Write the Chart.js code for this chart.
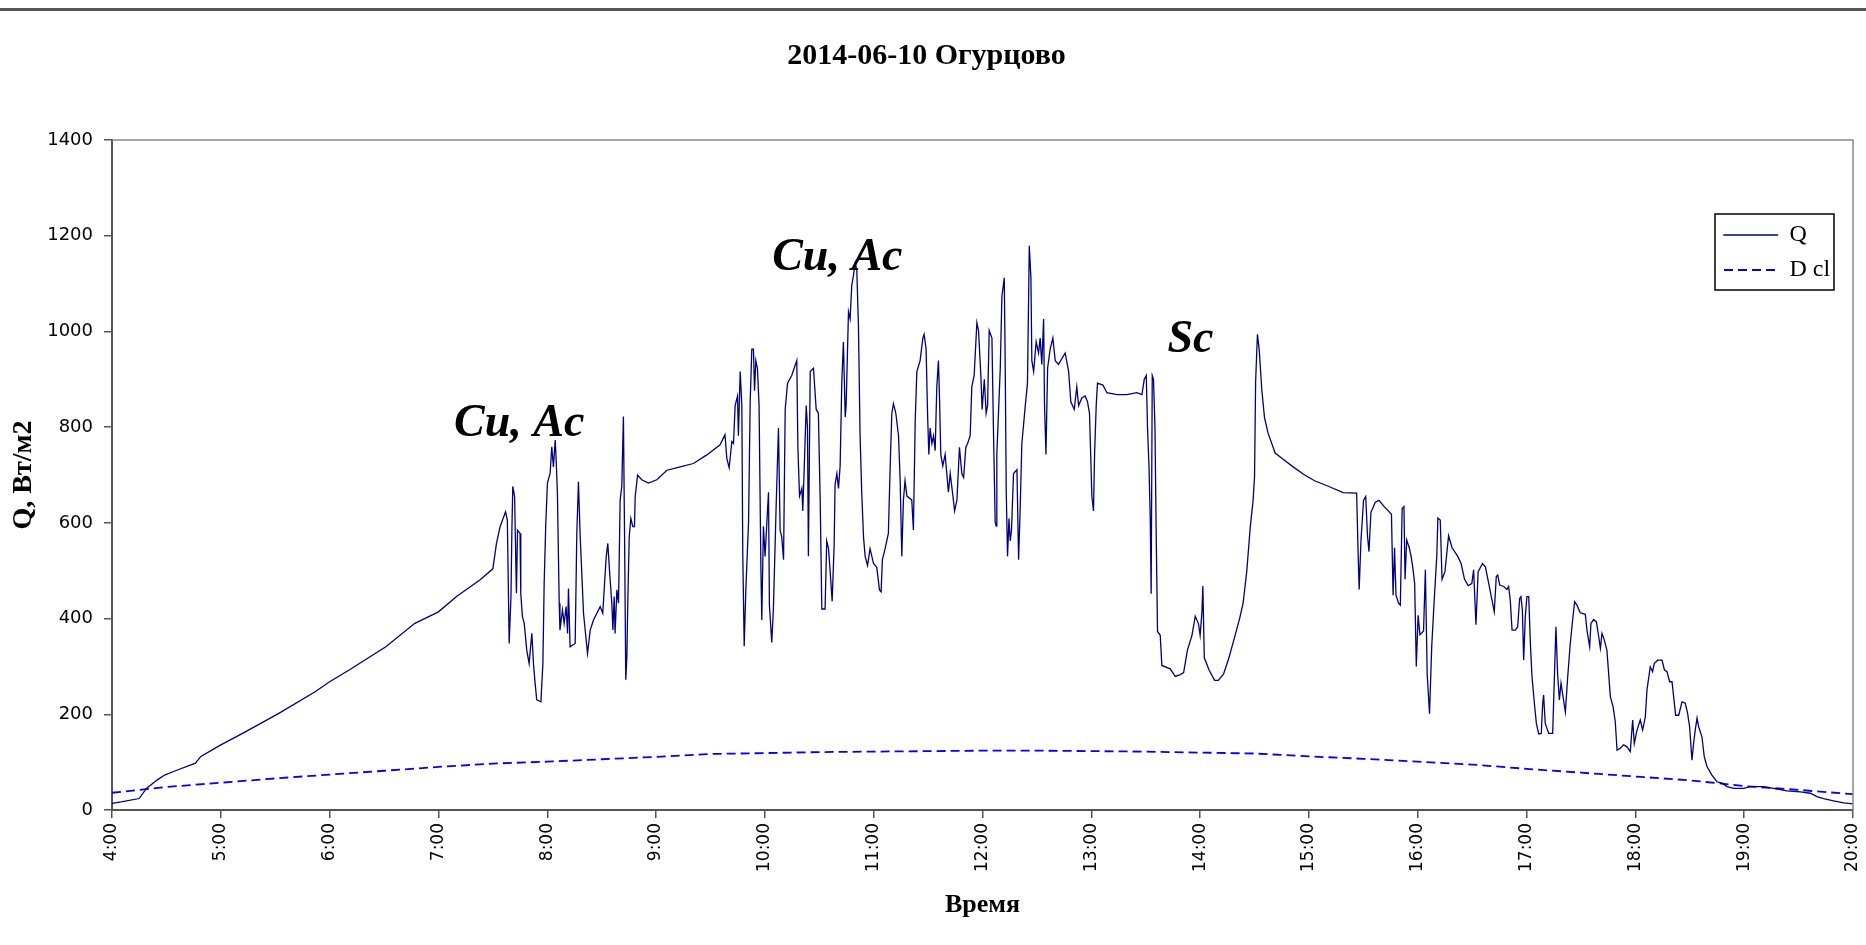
<!DOCTYPE html>
<html>
<head>
<meta charset="utf-8">
<script src="https://cdn.jsdelivr.net/npm/chart.js@4.4.1/dist/chart.umd.min.js"></script>
<style>
  body { margin: 0; background: #fff; }
  #topline { position: absolute; left: 0; top: 8px; width: 1866px; height: 3px; background: #555; }
  #myChart { position: absolute; left: 0; top: 0; }
</style>
</head>
<body>
<canvas id="myChart" width="1866" height="945"></canvas>
<div id="topline"></div>
<script>
// time is in minutes after midnight
let xTickLabels = ["4:00", "5:00", "6:00", "7:00", "8:00", "9:00", "10:00", "11:00", "12:00",
    "13:00", "14:00", "15:00", "16:00", "17:00", "18:00", "19:00", "20:00"];
let yTickLabels = ["0", "200", "400", "600", "800", "1000", "1200", "1400"];

let qTime = [
    240, 245, 255, 259, 265, 269, 275, 286, 289, 300, 312, 332, 352, 360, 371, 391, 407, 420, 430, 443, 450,
    452, 454, 457, 458, 459, 460, 460.5, 461, 462, 463, 463.6, 465, 465.4, 466.3, 467.3, 468.7, 470, 471.5, 472.4,
    473.3, 474.2, 476.5, 477.6, 478.3, 479.2, 480.1, 481.6, 482.5, 483.4, 484.4, 485, 485.6, 486.6, 487, 488.4,
    489.3, 490.4, 491.2, 491.7, 492.6, 495.4, 496.3, 497.2, 498.1, 500, 502.2, 503.7, 505.5, 509.2, 510.6, 512.5,
    513.4, 514.3, 515.6, 516.2, 516.9, 517.4, 518.4, 519.3, 520.2, 521.1, 522, 522.6, 523.3, 523.9, 524.4, 525.2,
    526.1, 527.2, 528.1, 528.5, 529.8, 532.1, 535.8, 540.4, 546, 553.3, 560.6, 568, 575.3, 578,
    579, 580.3, 581.8, 582.7, 583.6, 584.9, 585.4, 586.4, 587.3, 587.8, 588.6, 589.5, 591, 591.9, 592.8, 593.7,
    594.3, 595, 595.9, 596.8, 597.8, 598.3, 599.2, 600.1, 601.1, 602, 602.5, 603.8, 604.7, 606.2, 607.5, 608.4,
    609.3, 610.3, 611.2, 612.5, 614.8, 617.6, 618.2, 619.1, 620.4, 620.9, 621.6, 622.8, 623.5, 624, 625, 626.8,
    628.3, 629.5, 630.5, 631.4, 633.2, 634.1, 635.1, 636, 637.1, 638.2, 638.7, 639.7, 640.6, 641.5, 642.4, 643.3,
    644.3, 644.8, 646.1, 647, 647.9, 648.8, 649.8, 650.7, 651.6, 652.5, 653.4, 654.4, 655.3, 656.6, 658, 659.9,
    661.7, 663.2, 664.1, 664.8, 666.3, 668.1, 669.1, 670, 670.9, 672.2, 673.7, 674.6, 675.5, 676.4, 677.3, 678.3,
    681, 681.9, 682.9, 683.8, 685.6, 687.1, 687.8, 688.9, 689.7, 690.4, 691.1, 692.1, 693, 693.9, 694.8, 695.7,
    696.3, 697, 698.1, 699.4, 700.3, 701.2, 702.2,
    703.7, 704.6, 705.9, 707.3, 708.6, 709.6, 710.8, 711.8, 713.2, 714.1, 715.4, 716.9, 717.8, 719.1, 719.8, 721,
    722, 722.8, 723.7, 725.2, 726.1, 727, 727.6, 727.9, 729.8, 730.7, 732, 732.5, 733.1, 733.8, 734.6, 735.3,
    736, 737.1, 739, 739.9, 740.8, 741.7, 743.6, 744.8, 745.8, 746.7, 747.2, 748.2, 749.6, 750.9, 751.8, 752.7,
    753.7, 754.2, 755, 755.9, 757.3, 758.8, 760.1, 761.9, 765.6, 767.5, 768.7, 770.6, 772, 773, 774.8, 776.6,
    777.9, 779, 780.3, 781.2, 781.8, 782.7, 783.4, 786.4, 788.6, 794.1, 799.6, 805.1, 807.9, 809.2, 810.3, 811,
    811.8, 812.5, 813, 813.6, 814.3, 815.1, 815.8, 816.5, 818, 818.9, 823.5, 826.3, 829, 830.9, 833, 835.5,
    837.3, 839.1, 840, 841, 841.5, 842.3,
    845, 848, 850, 852.9, 855.8, 858.8, 861.7, 863.7, 865.7, 867.6, 869.2, 870, 870.6, 871.6, 872.6, 874,
    875.5, 877.5, 881.4, 885.4, 891.3, 897.2, 903.1, 911, 918.9, 926.3, 927.1, 927.7, 928.7, 930.1, 931.3, 932.3,
    933.1, 934.2, 936.6, 938.6, 941.5, 945.5, 946.4, 947.2, 948, 949.4, 950.4, 951.4, 952.4, 953, 953.9, 955.3,
    956.3, 957.3, 958.3, 959.2, 960.2, 961.2, 963.2, 964.2, 965.2, 966.5, 967.7, 969.1, 970.5, 971.1, 972.4, 973.4,
    975, 977, 978.9, 981.9, 983.9, 985.8, 987.8, 989.8, 990.8, 992.1, 993.3, 995.7,
    997.3, 999.1, 1000.9, 1002.2, 1003.3, 1004.1, 1005.2, 1007.4, 1009.2, 1010.1, 1011, 1012, 1013.8, 1015.1, 1016.2, 1016.9,
    1017.7, 1018.4, 1019.3, 1020.2, 1021.2, 1022.1, 1023, 1024.3, 1025.4, 1026.7, 1028.1, 1028.9, 1029.4, 1030.3, 1032.2, 1034.4,
    1035.3, 1036.2, 1037.1, 1038.1, 1039, 1040.1, 1041.4, 1042.7, 1044.1, 1045.4, 1046.5, 1047.8, 1049.6, 1052.4, 1053.3, 1054.8,
    1055.5, 1057, 1058.5, 1059.8, 1060.7, 1061.6, 1062.9, 1064.3, 1066.2, 1067.7, 1068.9, 1069.9, 1071.7, 1073.5, 1075.4, 1077.2,
    1078.5, 1079.4, 1080.9, 1082.7, 1084, 1085.5, 1086.4, 1088.2, 1089.5, 1090.4, 1092.3, 1094.7, 1096, 1097.4, 1098.9, 1100.2,
    1101.1, 1102.2, 1103.9, 1105.7, 1107.5, 1108.8, 1109.9, 1111.2, 1112.1, 1113, 1114, 1114.9, 1116.7, 1118, 1119.5, 1122.2,
    1125, 1127.8, 1130.5, 1134.2, 1139.7, 1143.4, 1150.7, 1156.2, 1163.6, 1171, 1176.5, 1180.1, 1183.8, 1189.3, 1194.8, 1200
];

let qValue = [
    14, 17, 24, 45, 63, 73, 82, 98, 112, 136, 160, 202, 247, 268, 293, 341, 390, 414, 446, 481, 504,
    557, 592, 623, 606, 348, 446, 585, 676, 655, 453, 585, 578, 453, 404, 390, 334, 306, 369, 306,
    265, 230, 226, 306, 474, 599, 683, 704, 759, 717, 773, 724, 662, 432, 376, 418,
    390, 425, 369, 463, 341, 348, 578, 686, 578, 411, 327, 376, 397, 425, 411, 529,
    557, 502, 432, 376, 446, 369, 460, 432, 648, 676, 822, 585, 272, 320, 432, 571,
    609, 592, 592, 655, 700, 690, 683, 690, 710, 717, 724, 742, 763, 784,
    735, 715, 770, 766, 845, 865, 782, 916, 845, 538, 342, 460, 601, 853, 963, 963,
    876, 939, 923, 845, 507, 397, 593, 530, 601, 664, 428, 350, 420, 633, 798, 585,
    570, 523, 837, 892, 908, 939, 758, 656, 672, 625, 703, 845, 798, 530, 916, 923,
    837, 829, 648, 420, 420, 562, 546, 499, 436, 554, 680, 703, 672, 719, 892, 978,
    821, 845, 1041, 1026, 1096, 1116, 1143, 1128, 1010, 782, 664, 570, 530, 511, 546, 515,
    507, 460, 456, 523, 546, 578, 719, 829, 849, 829, 782, 688, 530, 648, 688, 656,
    648, 585, 813, 916, 939, 986, 994, 963, 829, 743, 798, 766, 782, 751, 884, 939,
    861, 743, 719, 743, 703, 664, 703,
    656, 625, 648, 758, 703, 695, 758, 766, 782, 884, 908, 1018, 1002, 908, 837, 900,
    829, 845, 1002, 986, 782, 601, 593, 743, 923, 1073, 1112, 939, 664, 530, 609, 562,
    585, 703, 711, 523, 633, 766, 845, 892, 1179, 1112, 939, 916, 978, 955, 986, 931,
    1026, 845, 743, 923, 963, 986, 939, 931, 955, 916, 853, 837, 884, 845, 861, 865,
    853, 829, 656, 625, 743, 845, 892, 888, 872, 868, 868, 872, 868, 900, 908, 798,
    719, 609, 452, 908, 900, 798, 570, 373, 365, 302, 295, 279, 283, 287, 334, 365,
    405, 389, 365, 413, 468, 318,
    292, 271, 271, 284, 317, 358, 399, 432, 498, 589, 647, 696, 895, 994, 961, 878,
    820, 787, 746, 734, 717, 701, 688, 676, 663, 662, 540, 461, 564, 647, 655, 573,
    540, 622, 643, 647, 634, 618, 449, 548, 449, 432, 428, 630, 634, 482, 564, 548,
    531, 506, 473, 300, 407, 366, 374, 502, 284, 201, 341, 440, 531, 610, 606, 482,
    498, 573, 548, 531, 515, 482, 469, 473, 502, 387, 498, 515,
    508, 474, 439, 414, 488, 491, 470, 467, 461, 467, 439, 376, 376, 383, 442, 446,
    418, 313, 404, 446, 446, 348, 279, 223, 181, 159, 160, 223, 240, 181, 160, 160,
    272, 383, 286, 230, 265, 237, 205, 279, 348, 397, 435, 428, 412, 409, 376, 341,
    390, 398, 393, 362, 338, 369, 355, 334, 237, 216, 185, 125, 129, 136, 132, 122,
    188, 139, 167, 188, 167, 195, 251, 299, 289, 306, 313, 313, 293, 289, 268, 268,
    237, 198, 198, 226, 223, 202, 174, 104, 139, 167, 192, 174, 153, 111, 91, 73,
    59, 56, 49, 45, 45, 49, 49, 45, 40, 38, 35, 28, 24, 19, 15, 13
];

let dTime = [240, 270, 300, 330, 360, 390, 420, 450, 480, 510, 540, 570, 600, 630, 660, 690, 720,
    750, 780, 810, 840, 870, 900, 930, 960, 990, 1020, 1050, 1080, 1110, 1140, 1170, 1200];
let dValue = [36, 48, 57, 66, 74, 82, 90, 97, 101, 106, 111, 117, 119, 121, 122, 123, 124,
    124, 123, 122, 120, 118, 112, 107, 101, 95, 86, 78, 70, 62, 50, 42, 33];

// cloud notes on the plot
let noteText = ["Cu, Ac", "Cu, Ac", "Sc"];
let noteTime = [428.6, 604, 822];
let noteValue = [781, 1128, 957];

let qPoints = qTime.map((t, i) => ({ x: t, y: qValue[i] }));
let dPoints = dTime.map((t, i) => ({ x: t, y: dValue[i] }));

const serif = '"Liberation Serif", "Times New Roman", serif';
const sans = '"DejaVu Sans", Verdana, sans-serif';

// put the legend inside the plot, upper right
const legendPlace = {
    id: 'legendPlace',
    afterLayout(chart) {
        let lg = chart.legend;
        let a = chart.chartArea;
        lg.left = a.right - 140;
        lg.top = a.top + 72;
        lg.right = lg.left + lg.width;
        lg.bottom = lg.top + 100;
    },
    afterDraw(chart) {
        let ctx = chart.ctx;
        let a = chart.chartArea;
        let lg = chart.legend;
        ctx.save();
        // frame top and right
        ctx.strokeStyle = '#888';
        ctx.lineWidth = 1.5;
        ctx.beginPath();
        ctx.moveTo(a.left, a.top);
        ctx.lineTo(a.right, a.top);
        ctx.lineTo(a.right, a.bottom);
        ctx.stroke();
        // legend box
        ctx.strokeStyle = '#000';
        ctx.lineWidth = 1.5;
        ctx.strokeRect(lg.left + 2, lg.top + 2, 119, 76);
        ctx.restore();
    }
};

const notes = {
    id: 'notes',
    afterDatasetsDraw(chart) {
        let ctx = chart.ctx;
        let xs = chart.scales.x;
        let ys = chart.scales.y;
        ctx.save();
        ctx.font = 'italic bold 46px ' + serif;
        ctx.fillStyle = '#000';
        ctx.textAlign = 'left';
        ctx.textBaseline = 'alphabetic';
        for (let i = 0; i < noteText.length; i++) {
            ctx.fillText(noteText[i], xs.getPixelForValue(noteTime[i]), ys.getPixelForValue(noteValue[i]));
        }
        ctx.restore();
    }
};

new Chart("myChart", {
    type: "line",
    data: {
        datasets: [{
            label: "Q",
            data: qPoints,
            borderColor: "#000080",
            backgroundColor: "#000080",
            borderWidth: 1.3,
            pointRadius: 0,
            tension: 0
        }, {
            label: "D cl",
            data: dPoints,
            borderColor: "#0000ff",
            backgroundColor: "#0000ff",
            borderWidth: 1.8,
            borderDash: [9, 5],
            pointRadius: 0,
            tension: 0
        }]
    },
    options: {
        responsive: false,
        animation: false,
        devicePixelRatio: 1,
        layout: { padding: { left: 0, right: 13, top: 0, bottom: 0 } },
        plugins: {
            title: {
                display: true,
                text: "2014-06-10 Огурцово",
                color: "#000",
                font: { family: serif, size: 30, weight: "bold" },
                padding: { top: 38, bottom: 66 }
            },
            legend: {
                position: "chartArea",
                align: "start",
                labels: {
                    color: "#000",
                    font: { family: serif, size: 24 },
                    boxWidth: 53.5,
                    boxHeight: 0.01,
                    padding: 11
                }
            },
            tooltip: { enabled: false }
        },
        scales: {
            x: {
                type: "linear",
                min: 240,
                max: 1200,
                ticks: {
                    stepSize: 60,
                    autoSkip: false,
                    minRotation: 90,
                    maxRotation: 90,
                    padding: 5,
                    color: "#000",
                    font: { family: sans, size: 17 },
                    callback: (v, i) => xTickLabels[i]
                },
                grid: { drawOnChartArea: false, drawTicks: true, tickLength: 8, color: "#555", lineWidth: 1.5 },
                border: { color: "#555", width: 2 },
                title: {
                    display: true,
                    text: "Время",
                    color: "#000",
                    font: { family: serif, size: 26, weight: "bold" },
                    padding: { top: 0, bottom: 24 }
                },
                afterFit: (s) => { s.height = 135; s.paddingLeft = 0; s.paddingRight = 0; }
            },
            y: {
                min: 0,
                max: 1400,
                ticks: {
                    stepSize: 200,
                    padding: 11,
                    color: "#000",
                    font: { family: sans, size: 18 },
                    callback: (v, i) => yTickLabels[i]
                },
                grid: { drawOnChartArea: false, drawTicks: true, tickLength: 8, color: "#555", lineWidth: 1.5 },
                border: { color: "#555", width: 2 },
                title: {
                    display: true,
                    text: "Q, Вт/м2",
                    color: "#000",
                    font: { family: serif, size: 28, weight: "bold" },
                    padding: { top: 7, bottom: 0 }
                },
                afterFit: (s) => { s.width = 112; }
            }
        }
    },
    plugins: [legendPlace, notes]
});
</script>
</body>
</html>
